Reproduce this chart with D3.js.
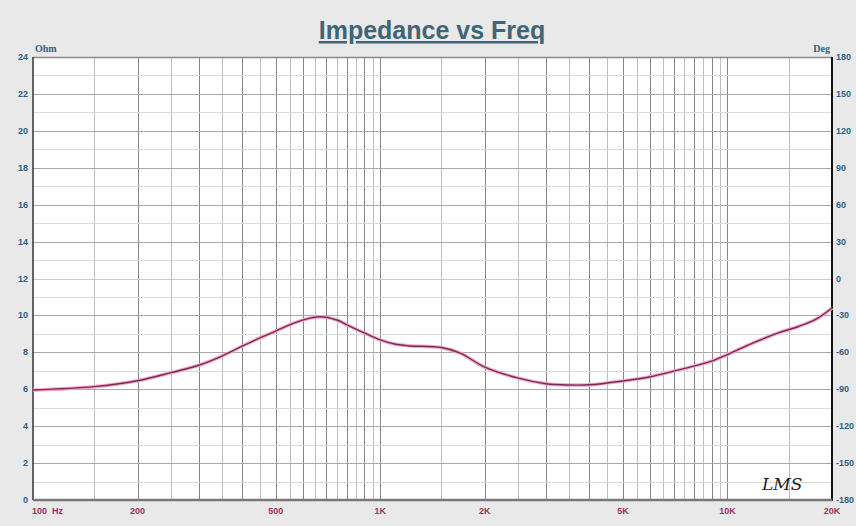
<!DOCTYPE html>
<html>
<head>
<meta charset="utf-8">
<title>Impedance vs Freq</title>
<script src="https://d3js.org/d3.v7.min.js"></script>
<style>
  body { margin: 0; background: #e9e9e9; }
  svg { display: block; }
</style>
</head>
<body>
<svg width="856" height="526"></svg>
<script>
// values
var freqs = [100, 150, 200, 250, 300, 350, 400, 450, 500, 550, 600, 670, 750, 800, 900, 1000, 1100, 1200, 1500, 1700, 2000, 2500, 3000, 3500, 4000, 5000, 6000, 7000, 8000, 9000, 10000, 12000, 14000, 16000, 18000, 20000];
var ohms  = [5.96, 6.14, 6.46, 6.9, 7.3, 7.8, 8.33, 8.78, 9.15, 9.5, 9.76, 9.93, 9.75, 9.5, 9.05, 8.67, 8.45, 8.36, 8.26, 7.96, 7.2, 6.6, 6.3, 6.23, 6.24, 6.45, 6.68, 6.98, 7.25, 7.52, 7.88, 8.55, 9.05, 9.4, 9.8, 10.4];
var freqTicks = [100, 200, 500, 1000, 2000, 5000, 10000, 20000];
var freqLabels = ["100  Hz", "200", "500", "1K", "2K", "5K", "10K", "20K"];
var ohmTicks = [0, 2, 4, 6, 8, 10, 12, 14, 16, 18, 20, 22, 24];
var degTicks = [-180, -150, -120, -90, -60, -30, 0, 30, 60, 90, 120, 150, 180];

var svg = d3.select("svg");
var pLeft = 33, pRight = 832, pTop = 57, pBottom = 500;

var x = d3.scaleLog().domain([100, 20000]).range([pLeft, pRight]);
var y = d3.scaleLinear().domain([0, 24]).range([pBottom, pTop]);
var yDeg = d3.scaleLinear().domain([-180, 180]).range([pBottom, pTop]);

// title
svg.append("text")
  .attr("x", 432).attr("y", 39)
  .attr("text-anchor", "middle")
  .style("font-family", "Liberation Sans, Arial, sans-serif")
  .style("font-weight", "bold")
  .style("font-size", "25px")
  .style("text-decoration", "underline")
  .attr("fill", "#3f6577")
  .text("Impedance vs Freq");

// plot area
svg.append("rect")
  .attr("x", pLeft).attr("y", pTop)
  .attr("width", pRight - pLeft).attr("height", pBottom - pTop)
  .attr("fill", "#ffffff");

// vertical grid: every 50 Hz step up to 1K, 500 up to 10K, 5K above
var vlines = [];
[[100, 50, 1000], [1000, 500, 10000], [10000, 5000, 20000]].forEach(function (r) {
  for (var f = r[0] + r[1]; f < r[2]; f += r[1]) vlines.push(f);
  vlines.push(r[2]);
});
vlines = vlines.filter(function (f) { return f < 20000; });

svg.append("g").selectAll("line")
  .data(vlines)
  .enter().append("line")
  .attr("x1", function (d) { return Math.round(x(d)) + 0.5; })
  .attr("x2", function (d) { return Math.round(x(d)) + 0.5; })
  .attr("y1", pTop).attr("y2", pBottom)
  .attr("stroke", function (d) {
    var step = d <= 1000 ? 100 : (d <= 10000 ? 1000 : 10000);
    return d % step === 0 ? "#858585" : "#bdbdbd";
  })
  .attr("stroke-width", 1);

// horizontal grid
svg.append("g").selectAll("line")
  .data(d3.range(1, 24))
  .enter().append("line")
  .attr("x1", pLeft).attr("x2", pRight)
  .attr("y1", function (d) { return Math.round(y(d)) + 0.5; })
  .attr("y2", function (d) { return Math.round(y(d)) + 0.5; })
  .attr("stroke", function (d) {
    if (d === 12) return "#f0b8cc";
    return d % 2 === 0 ? "#a8a8a8" : "#dadada";
  })
  .attr("stroke-width", 1);

// frame
svg.append("line").attr("x1", pLeft).attr("x2", pRight).attr("y1", pTop + 0.5).attr("y2", pTop + 0.5)
  .attr("stroke", "#8a8a8a").attr("stroke-width", 1.5);
svg.append("line").attr("x1", pLeft).attr("x2", pLeft).attr("y1", pTop).attr("y2", pBottom)
  .attr("stroke", "#333").attr("stroke-width", 1.5);
svg.append("line").attr("x1", pRight).attr("x2", pRight).attr("y1", pTop).attr("y2", pBottom + 1)
  .attr("stroke", "#111").attr("stroke-width", 2);
svg.append("line").attr("x1", pLeft).attr("x2", pRight).attr("y1", pBottom).attr("y2", pBottom)
  .attr("stroke", "#777").attr("stroke-width", 2.5);

// impedance curve
var pts = freqs.map(function (f, i) { return { f: f, z: ohms[i] }; });
var line = d3.line()
  .x(function (d) { return x(d.f); })
  .y(function (d) { return y(d.z); })
  .curve(d3.curveCatmullRom.alpha(0.5));

svg.append("path").datum(pts)
  .attr("d", line).attr("fill", "none")
  .attr("stroke", "#f3a6c6").attr("stroke-width", 3.5);
svg.append("path").datum(pts)
  .attr("d", line).attr("fill", "none")
  .attr("stroke", "#7a2c56").attr("stroke-width", 1.4);

var labelFont = "Liberation Sans, Arial, sans-serif";

// left axis labels
svg.append("g").selectAll("text")
  .data(ohmTicks)
  .enter().append("text")
  .attr("x", 28).attr("y", function (d) { return y(d) + 3; })
  .attr("text-anchor", "end")
  .style("font-family", labelFont).style("font-size", "9px").style("font-weight", "bold")
  .attr("fill", "#2f5f86")
  .text(function (d) { return d; });

svg.append("text").attr("x", 35).attr("y", 52)
  .style("font-family", "Liberation Serif, serif").style("font-size", "10px").style("font-weight", "bold")
  .attr("fill", "#2f5f86").text("Ohm");

// right axis labels
svg.append("g").selectAll("text")
  .data(degTicks)
  .enter().append("text")
  .attr("x", 836).attr("y", function (d) { return yDeg(d) + 3; })
  .style("font-family", labelFont).style("font-size", "9px").style("font-weight", "bold")
  .attr("fill", "#2f5f86")
  .text(function (d) { return d; });

svg.append("text").attr("x", 830).attr("y", 52)
  .attr("text-anchor", "end")
  .style("font-family", "Liberation Serif, serif").style("font-size", "10px").style("font-weight", "bold")
  .attr("fill", "#2f5f86").text("Deg");

// bottom axis labels
svg.append("g").selectAll("text")
  .data(freqTicks)
  .enter().append("text")
  .attr("x", function (d) { return x(d); })
  .attr("y", 514)
  .attr("text-anchor", function (d, i) { return i === 0 ? "start" : "middle"; })
  .attr("dx", function (d, i) { return i === 0 ? -1 : 0; })
  .style("font-family", labelFont).style("font-size", "9px").style("font-weight", "bold")
  .style("white-space", "pre")
  .attr("fill", "#a0305a")
  .text(function (d, i) { return freqLabels[i]; });

// LMS mark
svg.append("text").attr("x", 762).attr("y", 490)
  .style("font-family", "DejaVu Serif, serif").style("font-style", "italic").style("font-size", "17px")
  .attr("fill", "#222").text("LMS");
</script>
</body>
</html>
